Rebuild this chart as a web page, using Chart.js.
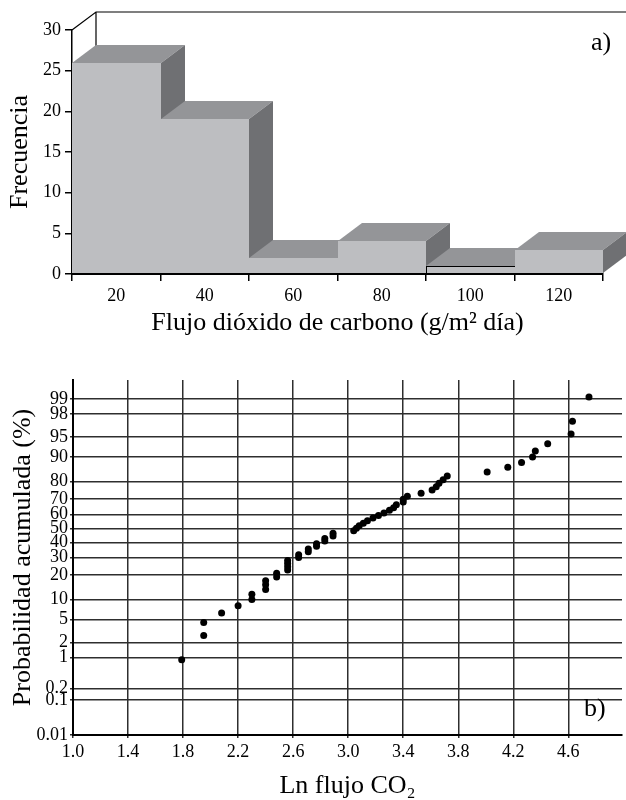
<!DOCTYPE html>
<html>
<head>
<meta charset="utf-8">
<script src="https://cdn.jsdelivr.net/npm/chart.js@4.4.1/dist/chart.umd.min.js"></script>
<style>
  html, body { margin: 0; padding: 0; background: #fff; }
  #wrap { position: relative; width: 626px; height: 800px; overflow: hidden; }
  canvas { position: absolute; left: 0; }
  #ca { top: 0; }
  #cb { top: 345px; }
</style>
</head>
<body>
<div id="wrap">
  <canvas id="ca" width="626" height="345"></canvas>
  <canvas id="cb" width="626" height="455"></canvas>
</div>
<script>
// ---------- Data: panel a (histogram) ----------
const binLabels = ['20', '40', '60', '80', '100', '120'];
const frequencies = [26, 19, 2, 4, 1, 3];

// ---------- Data: panel b (probability plot) ----------
const lnFlux = [1.79, 1.95, 1.95, 2.08, 2.20, 2.30, 2.30, 2.40, 2.40, 2.40,
  2.48, 2.48, 2.56, 2.56, 2.56, 2.56, 2.64, 2.64, 2.71, 2.71,
  2.77, 2.77, 2.83, 2.83, 2.89, 2.89, 3.04, 3.06, 3.08, 3.11,
  3.14, 3.18, 3.22, 3.26, 3.30, 3.33, 3.35, 3.40, 3.40, 3.43,
  3.53, 3.61, 3.64, 3.66, 3.69, 3.72, 4.01, 4.16, 4.26, 4.34,
  4.36, 4.45, 4.62, 4.63, 4.75];
const cumProb = [0.9, 2.7, 4.5, 6.4, 8.2, 10.0, 11.8, 13.6, 15.5, 17.3,
  19.1, 20.9, 22.7, 24.5, 26.4, 28.2, 30.0, 31.8, 33.6, 35.5,
  37.3, 39.1, 40.9, 42.7, 44.5, 46.4, 48.2, 50.0, 51.8, 53.6,
  55.5, 57.3, 59.1, 60.9, 62.7, 64.5, 66.4, 68.2, 70.0, 71.8,
  73.6, 75.5, 77.3, 79.1, 80.9, 82.7, 84.5, 86.4, 88.2, 90.0,
  91.8, 93.6, 95.5, 97.3, 99.1];
const probTicks = [0.01, 0.1, 0.2, 1, 2, 5, 10, 20, 30, 40, 50, 60, 70, 80, 90, 95, 98, 99];
const probTickLabels = ['0.01', '0.1', '0.2', '1', '2', '5', '10', '20', '30', '40', '50', '60', '70', '80', '90', '95', '98', '99'];
const xTicksB = [1.0, 1.4, 1.8, 2.2, 2.6, 3.0, 3.4, 3.8, 4.2, 4.6];

// inverse standard normal CDF (Acklam) for the probability axis
function probit(p) {
  const a = [-3.969683028665376e+01, 2.209460984245205e+02, -2.759285104469687e+02, 1.383577518672690e+02, -3.066479806614716e+01, 2.506628277459239e+00];
  const b = [-5.447609879822406e+01, 1.615858368580409e+02, -1.556989798598866e+02, 6.680131188771972e+01, -1.328068155288572e+01];
  const c = [-7.784894002430293e-03, -3.223964580411365e-01, -2.400758277161838e+00, -2.549732539343734e+00, 4.374664141464968e+00, 2.938163982698783e+00];
  const d = [7.784695709041462e-03, 3.224671290700398e-01, 2.445134137142996e+00, 3.754408661907416e+00];
  const pl = 0.02425, ph = 1 - pl;
  let q, r;
  if (p < pl) {
    q = Math.sqrt(-2 * Math.log(p));
    return (((((c[0]*q+c[1])*q+c[2])*q+c[3])*q+c[4])*q+c[5]) / ((((d[0]*q+d[1])*q+d[2])*q+d[3])*q+1);
  }
  if (p <= ph) {
    q = p - 0.5; r = q*q;
    return (((((a[0]*r+a[1])*r+a[2])*r+a[3])*r+a[4])*r+a[5])*q / (((((b[0]*r+b[1])*r+b[2])*r+b[3])*r+b[4])*r+1);
  }
  q = Math.sqrt(-2 * Math.log(1 - p));
  return -(((((c[0]*q+c[1])*q+c[2])*q+c[3])*q+c[4])*q+c[5]) / ((((d[0]*q+d[1])*q+d[2])*q+d[3])*q+1);
}

const SERIF = "'Liberation Serif', 'Times New Roman', serif";
Chart.defaults.font.family = SERIF;
Chart.defaults.color = '#000';

// ---------- Panel a: pseudo-3D histogram ----------
const DX = 24, DY = 18;
const FRONT = '#bdbec1', TOP = '#949598', SIDE = '#6f7073';

const bars3d = {
  id: 'bars3d',
  beforeDatasetsDraw(chart) {
    const {ctx, chartArea: ca} = chart;
    ctx.save();
    ctx.strokeStyle = '#000';
    ctx.lineWidth = 1.2;
    ctx.beginPath();
    ctx.moveTo(ca.left, ca.top);
    ctx.lineTo(ca.left + DX, ca.top - DY);
    ctx.lineTo(chart.width, ca.top - DY);
    ctx.moveTo(ca.left + DX, ca.top - DY);
    ctx.lineTo(ca.left + DX, ca.bottom - DY);
    ctx.stroke();
    ctx.restore();
  },
  beforeDatasetDraw() { return false; },
  afterDatasetsDraw(chart) {
    const {ctx} = chart;
    const meta = chart.getDatasetMeta(0);
    ctx.save();
    meta.data.forEach((el) => {
      const l = Math.round(el.x - el.width / 2), r = Math.round(el.x + el.width / 2);
      const w = r - l, t = Math.round(el.y), b = Math.round(el.base);
      // front
      ctx.fillStyle = FRONT;
      ctx.fillRect(l, t, w + 1, b - t);
      // top
      ctx.fillStyle = TOP;
      ctx.beginPath();
      ctx.moveTo(l, t); ctx.lineTo(r, t); ctx.lineTo(r + DX, t - DY); ctx.lineTo(l + DX, t - DY);
      ctx.closePath(); ctx.fill();
      // side
      ctx.fillStyle = SIDE;
      ctx.beginPath();
      ctx.moveTo(r, t); ctx.lineTo(r + DX, t - DY); ctx.lineTo(r + DX, b - DY); ctx.lineTo(r, b);
      ctx.closePath(); ctx.fill();
      const bw = el.options.borderWidth;
      if (bw > 0) {
        ctx.strokeStyle = el.options.borderColor;
        ctx.lineWidth = bw;
        ctx.strokeRect(l + 0.5, t + 0.5, w, b - t);
      }
    });
    ctx.fillStyle = '#000';
    ctx.font = '26px ' + SERIF;
    ctx.textBaseline = 'alphabetic';
    ctx.fillText('a)', 591, 50);
    ctx.restore();
  }
};

new Chart(document.getElementById('ca'), {
  type: 'bar',
  data: {
    labels: binLabels,
    datasets: [{
      data: frequencies,
      backgroundColor: FRONT,
      borderColor: ['#000', '#000', '#000', '#000', '#000', '#000'],
      borderWidth: [0, 0, 0, 0, 1, 0],
      barPercentage: 1.0,
      categoryPercentage: 1.0
    }]
  },
  options: {
    responsive: false,
    animation: false,
    layout: { padding: { top: 30, right: 23, left: 0, bottom: 0 } },
    plugins: { legend: { display: false }, tooltip: { enabled: false } },
    scales: {
      x: {
        z: 1,
        offset: true,
        grid: { display: true, drawOnChartArea: false, offset: true, tickLength: 7, color: '#000', lineWidth: 1.5 },
        border: { color: '#000', width: 2 },
        ticks: { padding: 4, font: { size: 18 }, color: '#000' },
        title: { display: true, text: 'Flujo dióxido de carbono (g/m² día)', font: { size: 26 }, color: '#000', padding: { top: 0, bottom: 6 } },
        afterFit(s) { s.height = 71; }
      },
      y: {
        z: 1,
        min: 0, max: 30,
        ticks: { stepSize: 5, padding: 4, font: { size: 18 }, color: '#000' },
        grid: { drawOnChartArea: false, tickLength: 7, color: '#000', lineWidth: 1.5 },
        border: { color: '#000', width: 1.5 },
        title: { display: true, text: 'Frecuencia', font: { size: 26 }, color: '#000', padding: { top: 5, bottom: 0 } },
        afterFit(s) { s.width = 72; }
      }
    }
  },
  plugins: [bars3d]
});

// ---------- Panel b: normal probability plot ----------
const labelB = {
  id: 'labelB',
  afterDraw(chart) {
    const {ctx} = chart;
    ctx.save();
    ctx.fillStyle = '#000';
    ctx.font = '26px ' + SERIF;
    ctx.textBaseline = 'alphabetic';
    ctx.fillText('b)', 584, 371);
    ctx.restore();
  }
};

new Chart(document.getElementById('cb'), {
  type: 'scatter',
  data: {
    datasets: [{
      data: lnFlux.map((x, i) => ({ x: x, y: probit(cumProb[i] / 100) })),
      backgroundColor: '#000',
      borderColor: '#000',
      pointRadius: 3.5,
      pointBorderWidth: 0
    }]
  },
  options: {
    responsive: false,
    animation: false,
    layout: { padding: { top: 35, right: 0, left: 0, bottom: 0 } },
    plugins: { legend: { display: false }, tooltip: { enabled: false } },
    scales: {
      x: {
        type: 'linear',
        min: 1.0, max: 4.99,
        afterBuildTicks(s) { s.ticks = xTicksB.map(v => ({ value: v })); },
        ticks: { autoSkip: false, padding: 3, font: { size: 18 }, color: '#000', callback: (v) => Number(v).toFixed(1) },
        grid: { color: '#2e2e2e', lineWidth: 1.5, tickLength: 3 },
        border: { color: '#000', width: 2 },
        title: { display: true, text: 'Ln flujo CO₂', font: { size: 26, lineHeight: 1.1 }, color: '#000', padding: { top: 0, bottom: 0 } },
        afterFit(s) { s.height = 65; }
      },
      y: {
        type: 'linear',
        min: probit(0.0001), max: probit(0.9962),
        afterBuildTicks(s) { s.ticks = probTicks.map(p => ({ value: probit(p / 100) })); },
        ticks: { autoSkip: false, padding: 2, font: { size: 18 }, color: '#000', callback: (v, i) => probTickLabels[i] },
        grid: { color: '#2e2e2e', lineWidth: 1.5, tickLength: 3 },
        border: { color: '#000', width: 2 },
        title: { display: true, text: 'Probabilidad acumulada (%)', font: { size: 26 }, color: '#000', padding: { top: 8, bottom: 0 } },
        afterFit(s) { s.width = 73; }
      }
    }
  },
  plugins: [labelB]
});
</script>
</body>
</html>
